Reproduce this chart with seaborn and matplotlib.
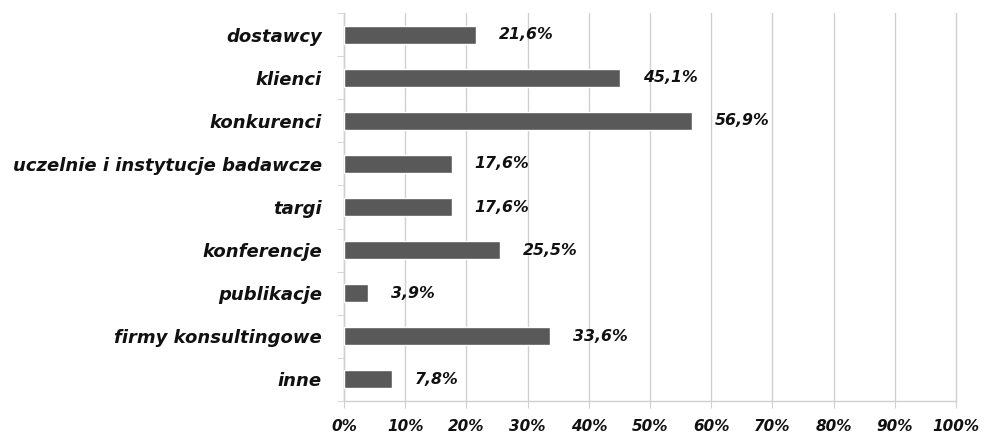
import matplotlib.pyplot as plt
import pandas as pd
import seaborn as sns
from matplotlib.ticker import FuncFormatter, MultipleLocator

# categories and shares (%)
categories = ['dostawcy', 'klienci', 'konkurenci',
              'uczelnie i instytucje badawcze', 'targi', 'konferencje',
              'publikacje', 'firmy konsultingowe', 'inne']
shares = [21.6, 45.1, 56.9, 17.6, 17.6, 25.5, 3.9, 33.6, 7.8]

bar_color = '#595959'
grid_color = '#d0d0d0'

if __name__ == '__main__':
    df = pd.DataFrame({'category': categories, 'share': shares})

    sns.set_style('white')
    plt.rcParams['font.family'] = ['DejaVu Sans']

    fig = plt.figure(figsize=(9.86, 4.36), dpi=100)
    ax = fig.add_axes([344 / 986, 35 / 436, 612 / 986, 388 / 436])

    sns.barplot(data=df, x='share', y='category', orient='h', color=bar_color,
                width=0.42, saturation=1, ax=ax, zorder=3)

    # value labels to the right of each bar
    for i, v in enumerate(shares):
        ax.annotate(f'{v:.1f}%'.replace('.', ','), xy=(v, i),
                    xytext=(16.5, 0), textcoords='offset points',
                    ha='left', va='center', fontsize=11.3,
                    fontweight='bold', fontstyle='italic', color='#111111')

    ax.set_xlim(0, 100)
    ax.set_ylim(len(categories) - 0.5, -0.5)
    ax.xaxis.set_major_locator(MultipleLocator(10))
    ax.xaxis.set_major_formatter(FuncFormatter(lambda x, _: f'{x:.0f}%'))
    ax.set_yticks([i for i in range(len(categories))])
    ax.set_yticklabels(categories)
    ax.set_yticks([i - 0.5 for i in range(len(categories) + 1)], minor=True)

    ax.grid(axis='x', color=grid_color, linewidth=1, zorder=0)
    ax.grid(axis='y', visible=False)
    for gl in ax.get_xgridlines():
        gl.set_clip_on(False)
    ax.set_axisbelow(True)
    ax.set_xlabel('')
    ax.set_ylabel('')

    for side in ['top', 'right']:
        ax.spines[side].set_visible(False)
    for side in ['left', 'bottom']:
        ax.spines[side].set_color(grid_color)
        ax.spines[side].set_linewidth(1)

    ax.tick_params(axis='y', which='major', length=0, pad=16)
    ax.tick_params(axis='y', which='minor', length=5, color=grid_color,
                   left=True)
    ax.tick_params(axis='x', length=5, color=grid_color, pad=8,
                   bottom=True)
    for lab in ax.get_yticklabels() + ax.get_xticklabels():
        lab.set_fontweight('bold')
        lab.set_fontstyle('italic')
        lab.set_color('#111111')
    for lab in ax.get_yticklabels():
        lab.set_fontsize(13)
    for lab in ax.get_xticklabels():
        lab.set_fontsize(11)

    fig.savefig('out.png', dpi=100, facecolor='white')
